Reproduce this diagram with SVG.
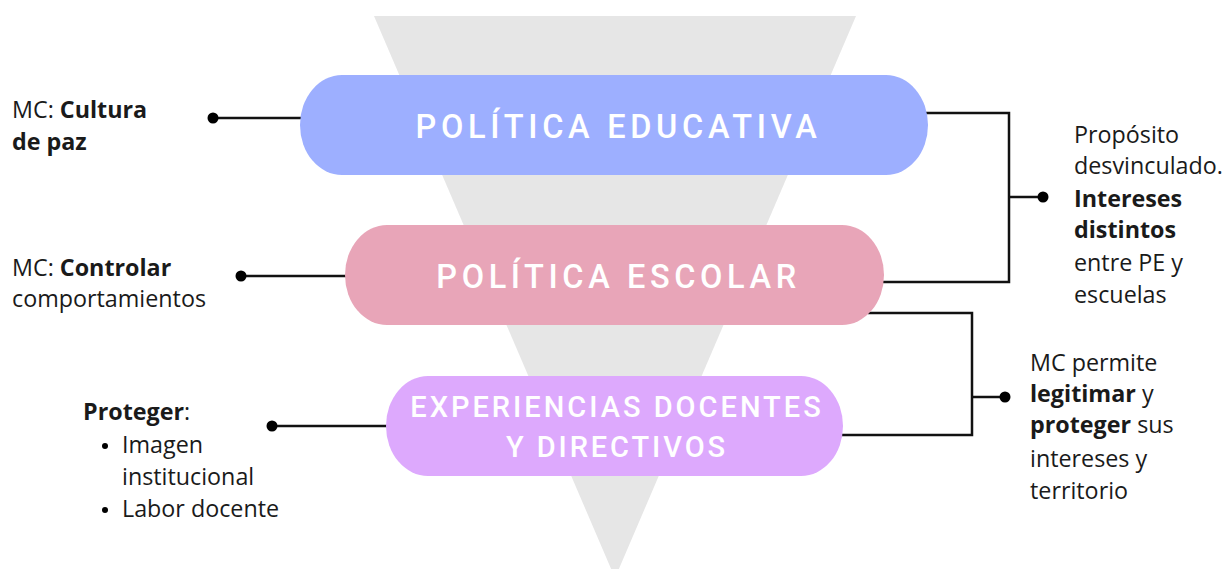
<svg xmlns="http://www.w3.org/2000/svg" width="1225" height="569" viewBox="0 0 1225 569">
<style>
.lbl{font-family:"Open Sans","Liberation Sans",sans-serif;font-size:23.3px;fill:#1a1a1a}
.b{font-weight:700}
.pill{font-family:Roboto,"Liberation Sans",sans-serif;font-weight:500;fill:#ffffff;text-anchor:middle}
.ln{stroke:#111;stroke-width:2.5;fill:none}
.dot{fill:#000}
</style>
<rect width="1225" height="569" fill="#ffffff"/>
<polygon id="funnel" points="374,16 856,16 615,578" fill="#e6e6e6"/>
<g id="connectors">
  <line class="ln" x1="213" y1="118" x2="302" y2="118"/>
  <circle class="dot" cx="213" cy="118" r="5.5"/>
  <line class="ln" x1="241" y1="276" x2="347" y2="276"/>
  <circle class="dot" cx="241" cy="276" r="5.5"/>
  <line class="ln" x1="272" y1="426" x2="389" y2="426"/>
  <circle class="dot" cx="272" cy="426" r="5.5"/>
  <polyline class="ln" points="926,113 1009,113 1009,282 880,282"/>
  <line class="ln" x1="1009" y1="197" x2="1043" y2="197"/>
  <circle class="dot" cx="1043" cy="197" r="5.5"/>
  <polyline class="ln" points="868,313 972,313 972,435 840,435"/>
  <line class="ln" x1="972" y1="397" x2="1005" y2="397"/>
  <circle class="dot" cx="1005" cy="397" r="5.5"/>
</g>
<g id="politica-educativa">
  <rect x="300" y="75" width="628" height="100" rx="42" ry="50" fill="#9dafff"/>
  <text class="pill" x="618.5" y="138" font-size="32.5" letter-spacing="4.7">POLÍTICA EDUCATIVA</text>
</g>
<g id="politica-escolar">
  <rect x="345" y="225" width="539" height="100" rx="42" ry="50" fill="#e8a5b8"/>
  <text class="pill" x="618.5" y="288" font-size="32.5" letter-spacing="4.6">POLÍTICA ESCOLAR</text>
</g>
<g id="experiencias">
  <rect x="386" y="376" width="457" height="100" rx="42" ry="50" fill="#dda9fd"/>
  <text class="pill" x="617" y="417" font-size="29" letter-spacing="3">EXPERIENCIAS DOCENTES</text>
  <text class="pill" x="617" y="457" font-size="29" letter-spacing="2.9">Y DIRECTIVOS</text>
</g>
<g id="label-cultura">
  <text class="lbl" x="12" y="118">MC: <tspan class="b">Cultura</tspan></text>
  <text class="lbl b" x="12" y="150">de paz</text>
</g>
<g id="label-controlar">
  <text class="lbl" x="12" y="276">MC: <tspan class="b">Controlar</tspan></text>
  <text class="lbl" x="12" y="307">comportamientos</text>
</g>
<g id="label-proteger">
  <text class="lbl" x="83" y="420"><tspan class="b">Proteger</tspan>:</text>
  <circle class="dot" cx="105" cy="446" r="3"/>
  <text class="lbl" x="122" y="453">Imagen</text>
  <text class="lbl" x="122" y="485">institucional</text>
  <circle class="dot" cx="105" cy="510" r="3"/>
  <text class="lbl" x="122" y="517">Labor docente</text>
</g>
<g id="label-proposito">
  <text class="lbl" x="1074" y="143">Propósito</text>
  <text class="lbl" x="1074" y="174">desvinculado.</text>
  <text class="lbl b" x="1074" y="207">Intereses</text>
  <text class="lbl b" x="1074" y="238">distintos</text>
  <text class="lbl" x="1074" y="271">entre PE y</text>
  <text class="lbl" x="1074" y="303">escuelas</text>
</g>
<g id="label-legitimar">
  <text class="lbl" x="1030" y="371">MC permite</text>
  <text class="lbl" x="1030" y="402"><tspan class="b">legitimar</tspan> y</text>
  <text class="lbl" x="1030" y="433"><tspan class="b">proteger</tspan> sus</text>
  <text class="lbl" x="1030" y="467">intereses y</text>
  <text class="lbl" x="1030" y="499">territorio</text>
</g>
</svg>
